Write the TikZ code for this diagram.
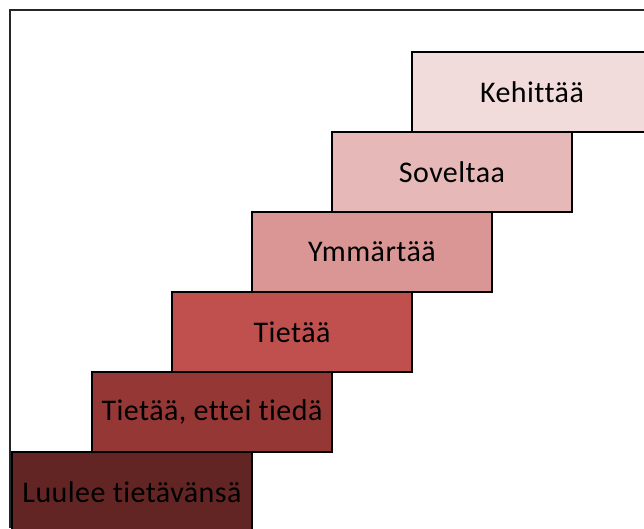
\documentclass[tikz,border=0pt]{standalone}
\usepackage{fontspec}
\setmainfont[LetterSpace=1.5,Ligatures=NoCommon,RawFeature=-liga]{Carlito}
\definecolor{cA}{HTML}{632523}
\definecolor{cB}{HTML}{953735}
\definecolor{cC}{HTML}{C0504D}
\definecolor{cD}{HTML}{D99694}
\definecolor{cE}{HTML}{E6B9B8}
\definecolor{cF}{HTML}{F2DCDB}
\begin{document}
\begin{tikzpicture}[x=1pt,y=1pt,
  stepbox/.style={draw=black,line width=2pt,minimum width=240pt,minimum height=80pt,
    anchor=north west,inner sep=0pt,font=\fontsize{30}{36}\selectfont,text=black}]
\useasboundingbox (0,0) rectangle (644,528);
\fill[white] (0,0) rectangle (644,528);
\begin{scope}
\clip (0,0) rectangle (644,528);
\node[stepbox,fill=cA] (s1) at (11,77) {Luulee tietävänsä};
\node[stepbox,fill=cB] (s2) at (91,157) {Tietää, ettei tiedä};
\node[stepbox,fill=cC] (s3) at (171,237) {Tietää};
\node[stepbox,fill=cD] (s4) at (251,317) {Ymmärtää};
\node[stepbox,fill=cE] (s5) at (331,397) {Soveltaa};
\node[stepbox,fill=cF] (s6) at (411,477) {Kehittää};
\end{scope}
\coordinate (fb) at (10,0);
\coordinate (fc) at (10,518);
\coordinate (fr) at (644,518);
\draw[line width=1.8pt,black!85] (fb) -- (fc) -- (fr);
\end{tikzpicture}
\end{document}
